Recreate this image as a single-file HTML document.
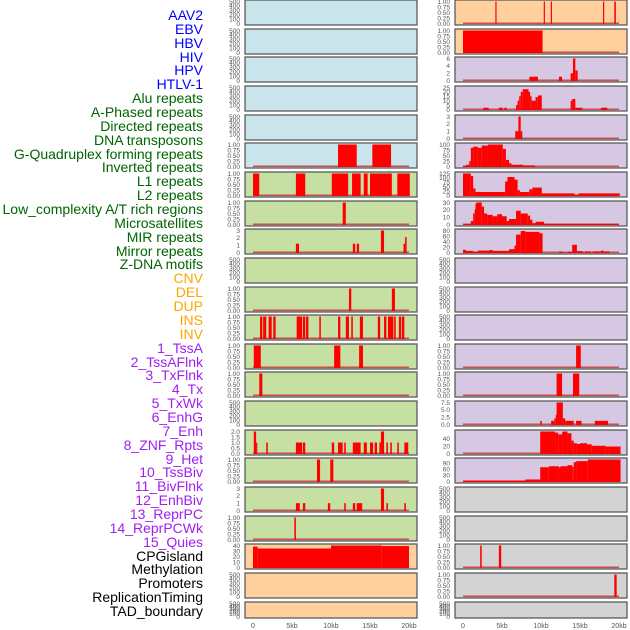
<!DOCTYPE html>
<html><head><meta charset="utf-8"><style>
body{margin:0;background:#fff;width:630px;height:630px;overflow:hidden;font-family:"Liberation Sans",sans-serif}
#labels div{position:absolute;right:427px;font-size:14px;line-height:14px;white-space:nowrap}
</style></head><body>
<div id="labels"></div>
<svg id="chart" width="630" height="630" style="position:absolute;left:0;top:0"></svg>
<script>
const trackNames=["AAV2","EBV","HBV","HIV","HPV","HTLV-1","Alu repeats","A-Phased repeats","Directed repeats","DNA transposons","G-Quadruplex forming repeats","Inverted repeats","L1 repeats","L2 repeats","Low_complexity A/T rich regions","Microsatellites","MIR repeats","Mirror repeats","Z-DNA motifs","CNV","DEL","DUP","INS","INV","1_TssA","2_TssAFlnk","3_TxFlnk","4_Tx","5_TxWk","6_EnhG","7_Enh","8_ZNF_Rpts","9_Het","10_TssBiv","11_BivFlnk","12_EnhBiv","13_ReprPC","14_ReprPCWk","15_Quies","CPGisland","Methylation","Promoters","ReplicationTiming","TAD_boundary"];
const trackColors=["#0000ff","#0000ff","#0000ff","#0000ff","#0000ff","#0000ff","#006400","#006400","#006400","#006400","#006400","#006400","#006400","#006400","#006400","#006400","#006400","#006400","#006400","#ffa500","#ffa500","#ffa500","#ffa500","#ffa500","#a020f0","#a020f0","#a020f0","#a020f0","#a020f0","#a020f0","#a020f0","#a020f0","#a020f0","#a020f0","#a020f0","#a020f0","#a020f0","#a020f0","#a020f0","#000","#000","#000","#000","#000"];
const xTicks=[0,5,10,15,20];
const xTickLabels=["0","5kb","10kb","15kb","20kb"];
const T500=["0","100","200","300","400","500"],T1=["0.00","0.25","0.50","0.75","1.00"];
const leftTickLabels=[T500,T500,T500,T500,T500,T1,T1,T1,["0","1","2","3"],T500,T1,T1,T1,T1,T500,["0.0","0.5","1.0","1.5","2.0"],T1,["0","1","2","3"],T1,["0","10","20","30","40"],T500,T500];
const leftMax=[500,500,500,500,500,1,1,1,3,500,1,1,1,1,500,2,1,3,1,40,500,500];
const leftBg=["#c9e4ea","#c9e4ea","#c9e4ea","#c9e4ea","#c9e4ea","#c9e4ea","#c6e0a4","#c6e0a4","#c6e0a4","#c6e0a4","#c6e0a4","#c6e0a4","#c6e0a4","#c6e0a4","#c6e0a4","#c6e0a4","#c6e0a4","#c6e0a4","#c6e0a4","#ffd09e","#ffd09e","#ffd09e"];
const leftBars=[[],[],[],[],[],
[[10.9,13.3,1],[15.3,17.7,1]],
[[0,0.8,1],[5.5,6.7,1],[10.1,12.2,1],[12.7,13.8,1],[14.2,14.7,1],[15,17.8,1],[18.5,20.1,1]],
[[11.5,11.9,1]],
[[5.5,5.9,1.2],[12.8,13.1,1.2],[13.3,13.6,1.2],[16.4,16.8,3],[19.3,19.5,1.2],[19.5,19.7,2.1]],
[],
[[12.3,12.6,1],[17.8,18.2,1]],
[[0.9,1.2,1],[1.3,1.7,1],[2.0,2.4,1],[2.6,2.9,1],[5.6,6.3,1],[6.4,6.7,1],[6.8,7.1,1],[8.5,8.7,1],[10.9,11.2,1],[11.9,12.3,1],[12.6,12.8,1],[13.7,14.1,1],[16,16.3,1],[16.8,17.1,1],[17.3,18,1],[18.1,18.3,1],[18.7,19,1],[19.1,19.4,1]],
[[0.1,1.0,1],[10.4,11.2,1],[13.6,14.1,1]],
[[0.8,1.2,1]],
[],
[[0.1,0.4,2],[0.4,0.5,1],[1.7,1.9,1],[5.5,6.3,1],[6.4,6.7,1],[10.1,10.4,1],[10.9,11.5,1],[11.7,11.9,1],[12.8,13.8,1],[14.2,14.6,1],[15,15.4,1],[15.6,15.9,1],[16.2,16.4,1],[16.4,16.8,2],[17.1,17.3,1],[17.6,17.8,1],[18.5,18.7,1],[19.4,19.9,1]],
[[8.2,8.6,1],[9.9,10.3,1]],
[[5.5,6.0,1],[6.4,6.7,1],[9.6,9.9,1],[11.7,11.9,1],[12.8,13.1,1],[13.3,14,1],[16.4,16.8,3],[17.1,17.3,1],[19.4,19.6,1]],
[[5.3,5.5,1]],
[[0,0.6,38],[0.6,10,34.5],[10,16.5,40],[16.5,20,39]],
[],[]];
const rightTickLabels=[T1,T1,["0","2","4","6"],["0","5","10","15","20","25"],["0","1","2","3"],["0","25","50","75","100"],["0","25","50","75","100","125"],["0","10","20","30"],["0","20","40","60","80"],T500,T500,T500,T1,T1,["0.0","2.5","5.0","7.5"],["0","20","40"],["0","30","60","90"],T500,T500,T1,T1,T500];
const rightTickVals=[null,null,null,null,null,null,null,null,null,null,null,null,null,null,null,[0,20,40],[0,30,60,90],null,null,null,null,null];
const rightMax=[1,1,7,25,3,100,125,32,80,500,500,500,1,1,9,60,108,500,500,1,1,500];
const rightBg=["#ffd09e","#ffd09e","#d6c7e3","#d6c7e3","#d6c7e3","#d6c7e3","#d6c7e3","#d6c7e3","#d6c7e3","#d6c7e3","#d6c7e3","#d6c7e3","#d6c7e3","#d6c7e3","#d6c7e3","#d6c7e3","#d6c7e3","#d3d3d3","#d3d3d3","#d3d3d3","#d3d3d3","#d3d3d3"];
const rightBars=[
[[4.15,4.3,1],[10.35,10.5,1],[11.25,11.4,1],[17.95,18.1,1],[19.4,19.6,1]],
[[0,10.2,1]],
[[8.5,9.6,1.2],[12.3,12.7,1.2],[13.8,14.1,2.3],[14.1,14.4,7],[14.4,14.7,3.2]],
[[2.6,3.3,2],[4.6,5.1,2],[5.3,5.6,2],[6.8,7.0,5],[7.0,7.2,10],[7.2,7.4,15],[7.4,7.65,20],[7.65,8.4,23],[8.4,8.6,20],[8.6,8.8,15],[8.8,9.3,10],[9.3,9.6,14],[9.6,10.1,16],[13.8,14.0,10],[14.0,14.4,12],[14.4,15.3,2],[17.7,18.5,2]],
[[6.7,7.1,1],[7.1,7.4,3],[7.4,7.6,1]],
[[0,0.4,3],[0.4,0.8,8],[0.8,1.0,25],[1.0,1.3,85],[1.3,1.9,90],[1.9,2.4,85],[2.4,3.2,95],[3.2,5.1,100],[5.1,5.5,80],[5.5,5.9,30],[5.9,6.2,15],[6.2,7.7,8],[7.7,9.2,5]],
[[0,1.0,125],[1.0,1.3,110],[1.3,1.6,40],[1.6,5.4,20],[5.4,5.7,80],[5.7,6.6,105],[6.6,7.0,90],[7.0,7.3,30],[7.3,8.5,20],[8.5,8.9,35],[8.9,10.1,45],[10.1,14.3,12],[14.3,14.8,5],[14.8,20.1,12]],
[[0,0.5,0.5],[0.5,1.0,1],[1.0,1.3,5],[1.3,1.5,16],[1.5,1.6,22],[1.6,1.7,30],[1.7,2.4,32],[2.4,2.7,26],[2.7,3.1,16],[3.1,3.8,14],[3.8,4.4,12],[4.4,5.0,15],[5.0,5.6,12],[5.6,5.9,5],[5.9,6.8,8],[6.8,7.4,20],[7.4,8.3,16],[8.3,8.6,13],[8.6,8.9,7],[8.9,9.3,2],[9.3,10.4,4],[10.4,20,1]],
[[0,0.4,10],[0.4,1.3,6],[1.3,1.9,3],[1.9,3.4,7],[3.4,3.8,9],[3.8,5.9,6],[5.9,6.6,12],[6.6,6.8,25],[6.8,7.4,65],[7.4,8.0,78],[8.0,9.8,75],[9.8,10.2,70],[12.3,12.8,3],[13.4,14.0,3],[14.0,14.6,28],[14.6,15.3,5],[15.3,15.5,2],[15.6,16.4,4],[16.6,17.7,4],[17.7,18.0,7],[18.0,18.8,4]],
[],[],[],
[[14.5,15.1,1]],
[[12.0,12.7,1],[14.1,14.9,1]],
[[9.9,10.1,1.5],[11.3,11.7,1.5],[11.7,11.9,2.5],[11.9,12.0,4],[12.0,12.8,9],[12.8,13.1,2.5],[13.1,14.2,1.5],[14.5,15.2,1.5],[16.9,18.6,1.5]],
[[9.9,11.8,60],[11.8,12.2,57],[12.2,12.7,52],[12.7,12.8,58],[12.8,13.4,60],[13.4,13.9,55],[13.9,14.2,35],[14.2,14.6,28],[14.6,15.0,26],[15.0,15.9,28],[15.9,16.5,25],[16.5,18.3,21],[18.3,18.6,19],[18.6,20.2,19]],
[[0,8.0,5],[8.0,9.9,10],[9.9,11.0,70],[11.0,12.3,75],[12.3,12.5,70],[12.5,13.4,75],[13.4,14.0,80],[14.0,14.2,72],[14.2,14.5,95],[14.5,16,100],[16,20.2,108]],
[],[],
[[2.2,2.4,1],[4.6,4.9,1]],
[[19.4,19.7,1]],
[]];
const NS="http://www.w3.org/2000/svg";
const svg=document.getElementById('chart');
function mk(tag,attrs,parent){const e=document.createElementNS(NS,tag);for(const k in attrs)e.setAttribute(k,attrs[k]);(parent||svg).appendChild(e);return e;}
const rowTop=i=>Math.round(i*28.65);
const rowH=i=>i===21?16:25;
function xScale(side,kb){return (side===0?253:463)+kb*7.8;}
function yScale(i,v,max){const b=rowTop(i)+rowH(i)-1.5;return b-(v/max)*(rowH(i)-3);}
// labels
const lab=document.getElementById('labels');
trackNames.forEach((n,k)=>{const d=document.createElement('div');


d.textContent=n;d.style.top=(8+k*13.86)+'px';d.style.color=trackColors[k];lab.appendChild(d);});
function drawPanel(side,i){
 const x0=side===0?245:455,w=172,top=rowTop(i),h=rowH(i);
 const max=side===0?leftMax[i]:rightMax[i];
 const bg=side===0?leftBg[i]:rightBg[i];
 const bars=side===0?leftBars[i]:rightBars[i];
 const labs=side===0?leftTickLabels[i]:rightTickLabels[i];
 const g=mk('g',{});
 
 
 const r=mk('rect',{x:x0,y:top,width:w,height:h,fill:bg,stroke:'#5a5a5a','stroke-width':1.3},g);
 
 
 if(max!==500){const bl=mk('rect',{x:xScale(side,0),y:yScale(i,0,max)-1,width:20*7.8,height:1.6,fill:'#c85050'},g);
 
 }
 bars.forEach(b=>{const y=Math.max(top+0.7,yScale(i,Math.min(b[2],max),max));const xa=xScale(side,b[0]),xb=Math.max(xScale(side,b[1]),xa+1.2);
  const e=mk('rect',{x:xa,y:y,width:xb-xa,height:yScale(i,0,max)-y+0.5,fill:'#ff0000'},g);
  
  });
 const n=labs.length;
 const vals=(side===1&&rightTickVals[i])?rightTickVals[i]:labs.map((_,k)=>k*max/(n-1));
 labs.forEach((t,k)=>{const y=yScale(i,vals[k],max);
  const tx=mk('text',{x:x0-5,y:y+2.3,'font-size':6.5,fill:'#555','text-anchor':'end'},g);
  
  
  tx.textContent=t;});
}
for(let i=0;i<22;i++){drawPanel(0,i);drawPanel(1,i);}
[0,1].forEach(side=>{xTicks.forEach((v,k)=>{const t=mk('text',{x:xScale(side,v),y:628,'font-size':7,fill:'#555','text-anchor':'middle'});
 
 
 t.textContent=xTickLabels[k];});});
</script>
</body></html>
